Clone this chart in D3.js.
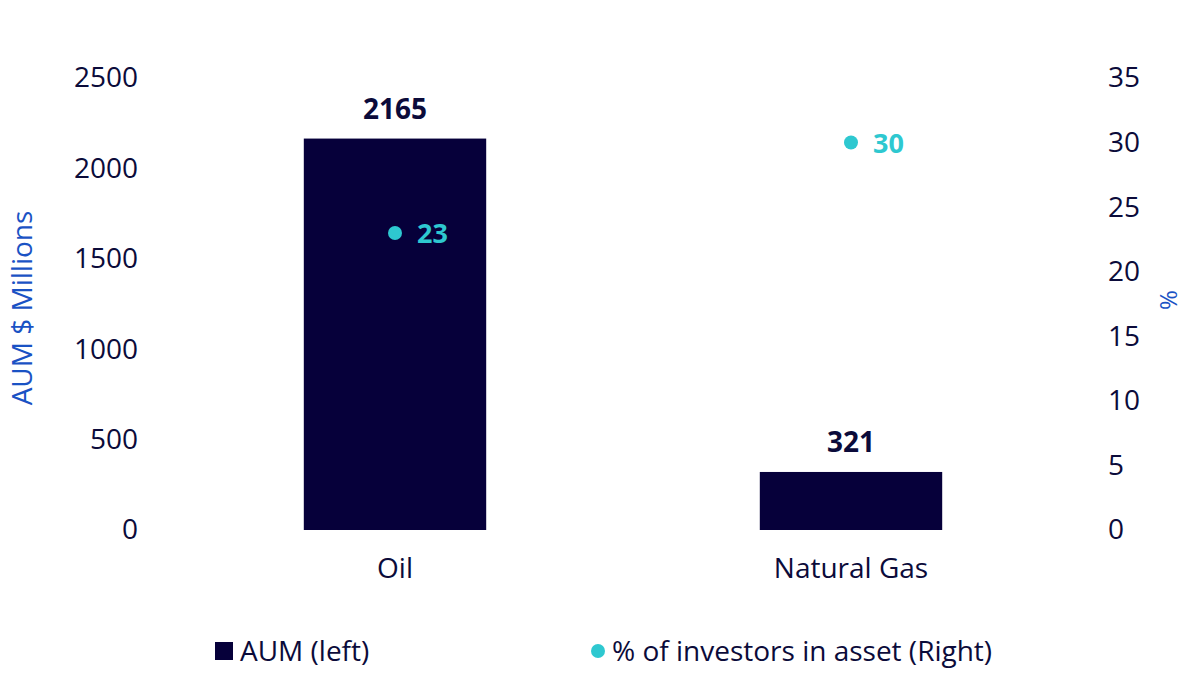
<!DOCTYPE html>
<html>
<head>
<meta charset="utf-8">
<script src="https://cdn.jsdelivr.net/npm/d3@7"></script>
<style>
  body { margin: 0; background: #fff; }
  svg { display: block; font-family: "Open Sans", sans-serif; }
</style>
</head>
<body>
<div id="chart"></div>
<script>
// data
const categories = ['Oil', 'Natural Gas']
const aum = [2165, 321]
const pctInvestors = [23, 30]
const leftTicks = [0, 500, 1000, 1500, 2000, 2500]
const rightTicks = [0, 5, 10, 15, 20, 25, 30, 35]

const width = 1200, height = 674
const navy = '#06003a', cyan = '#2ec8d0', blue = '#1a52c4', ink = '#0b0b3a'

const svg = d3.select('#chart').append('svg')
    .attr('width', width)
    .attr('height', height)

const x = d3.scaleBand()
    .domain(categories)
    .range([167, 1079])
    .paddingInner(0.6)
    .paddingOuter(0.3)

const yL = d3.scaleLinear().domain([0, 2500]).range([530, 78])
const yR = d3.scaleLinear().domain([0, 35]).range([530, 78])

// left axis (labels only)
const axL = svg.append('g')
    .attr('transform', 'translate(146,0)')
    .call(d3.axisLeft(yL).tickValues(leftTicks).tickFormat(d3.format('d')).tickSize(0).tickPadding(8))
axL.select('.domain').remove()
axL.selectAll('text')
    .attr('font-size', 28).attr('fill', ink)
    .attr('font-family', '"Open Sans", sans-serif')

// right axis
const axR = svg.append('g')
    .attr('transform', 'translate(1100,0)')
    .call(d3.axisRight(yR).tickValues(rightTicks).tickSize(0).tickPadding(8))
axR.select('.domain').remove()
axR.selectAll('text')
    .attr('font-size', 28).attr('fill', ink)
    .attr('font-family', '"Open Sans", sans-serif')

// category labels
const axB = svg.append('g')
    .attr('transform', 'translate(0,548)')
    .call(d3.axisBottom(x).tickSize(0).tickPadding(10))
axB.select('.domain').remove()
axB.selectAll('text')
    .attr('font-size', 28).attr('fill', ink)
    .attr('font-family', '"Open Sans", sans-serif')

// axis titles
svg.append('text')
    .attr('transform', `translate(32,${(78 + 530) / 2 + 4}) rotate(-90)`)
    .attr('text-anchor', 'middle')
    .attr('font-size', 28).attr('fill', blue)
    .text('AUM $ Millions')

svg.append('text')
    .attr('transform', `translate(1177,${(78 + 530) / 2 - 4}) rotate(-90)`)
    .attr('text-anchor', 'middle')
    .attr('font-size', 24).attr('fill', blue)
    .text('%')

// bars
svg.selectAll('.bar')
    .data(categories)
    .enter().append('rect')
    .attr('class', 'bar')
    .attr('x', d => x(d))
    .attr('width', x.bandwidth())
    .attr('y', (d, i) => yL(aum[i]))
    .attr('height', (d, i) => yL(0) - yL(aum[i]))
    .attr('fill', navy)

svg.selectAll('.barlabel')
    .data(categories)
    .enter().append('text')
    .attr('class', 'barlabel')
    .attr('x', d => x(d) + x.bandwidth() / 2)
    .attr('y', (d, i) => yL(aum[i]) - 20)
    .attr('text-anchor', 'middle')
    .attr('font-size', 28).attr('font-weight', 'bold').attr('fill', ink)
    .text((d, i) => aum[i])

// points
svg.selectAll('.pt')
    .data(categories)
    .enter().append('circle')
    .attr('class', 'pt')
    .attr('cx', d => x(d) + x.bandwidth() / 2)
    .attr('cy', (d, i) => yR(pctInvestors[i]))
    .attr('r', 7)
    .attr('fill', cyan)

svg.selectAll('.ptlabel')
    .data(categories)
    .enter().append('text')
    .attr('class', 'ptlabel')
    .attr('x', d => x(d) + x.bandwidth() / 2 + 22)
    .attr('y', (d, i) => yR(pctInvestors[i]) + 10)
    .attr('font-size', 27).attr('font-weight', 'bold').attr('fill', cyan)
    .text((d, i) => pctInvestors[i])

// legend
svg.append('rect')
    .attr('x', 215).attr('y', 642).attr('width', 18).attr('height', 18)
    .attr('fill', navy)
svg.append('text')
    .attr('x', 240).attr('y', 661)
    .attr('font-size', 28).attr('fill', ink)
    .text('AUM (left)')
svg.append('circle')
    .attr('cx', 598).attr('cy', 651).attr('r', 7)
    .attr('fill', cyan)
svg.append('text')
    .attr('x', 612).attr('y', 661)
    .attr('font-size', 28).attr('fill', ink)
    .text('% of investors in asset (Right)')
</script>
</body>
</html>
